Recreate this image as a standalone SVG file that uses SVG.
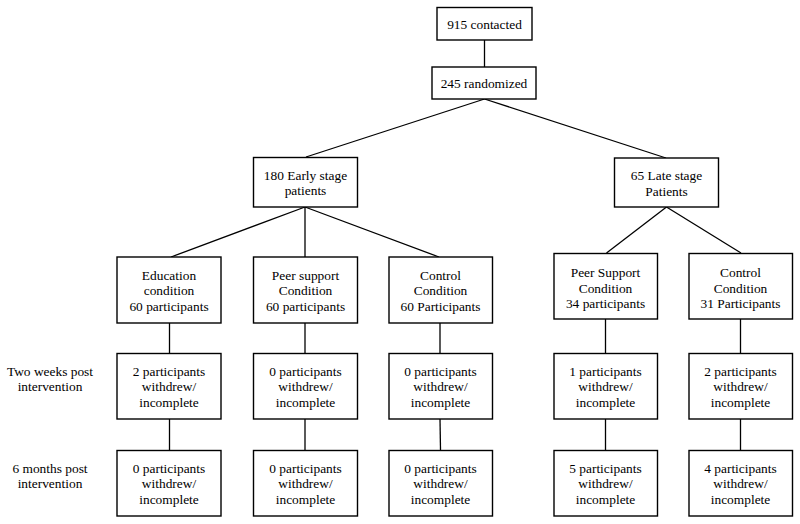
<svg xmlns="http://www.w3.org/2000/svg" width="800" height="524" viewBox="0 0 800 524">
<style>
  .box { fill: #ffffff; stroke: #000000; stroke-width: 1.4; }
  .t { font-family: 'Liberation Serif', 'DejaVu Serif', 'Times New Roman', serif; font-size: 13.4px; fill: #000000; text-anchor: middle; }
  .c { stroke: #000000; stroke-width: 1.3; fill: none; }
</style>
<rect width="800" height="524" fill="#ffffff"/>
<g id="connectors">
  <line class="c" x1="484.5" y1="40" x2="484.5" y2="67"/>
  <line class="c" x1="484.5" y1="99" x2="306" y2="157"/>
  <line class="c" x1="484.5" y1="99" x2="666" y2="158"/>
  <line class="c" x1="305" y1="207" x2="171" y2="257"/>
  <line class="c" x1="305" y1="207" x2="305" y2="257"/>
  <line class="c" x1="305" y1="207" x2="439" y2="257"/>
  <line class="c" x1="666.5" y1="207" x2="606.5" y2="253"/>
  <line class="c" x1="666.5" y1="207" x2="741" y2="253"/>
  <line class="c" x1="169.5" y1="323" x2="169.5" y2="353"/>
  <line class="c" x1="169.5" y1="419" x2="169.5" y2="450"/>
  <line class="c" x1="305" y1="323" x2="305" y2="353"/>
  <line class="c" x1="305" y1="419" x2="305" y2="450"/>
  <line class="c" x1="440" y1="323" x2="440" y2="353"/>
  <line class="c" x1="440" y1="419" x2="440.5" y2="450"/>
  <line class="c" x1="605.5" y1="319" x2="605.5" y2="353"/>
  <line class="c" x1="605.5" y1="419" x2="605.5" y2="450"/>
  <line class="c" x1="740.5" y1="319" x2="740.5" y2="353"/>
  <line class="c" x1="740.5" y1="419" x2="740.5" y2="450"/>
</g>
<g id="label-two-weeks">
  <text class="t" x="50" y="376">Two weeks post</text>
  <text class="t" x="50" y="391">intervention</text>
</g>
<g id="label-six-months">
  <text class="t" x="50" y="472.5">6 months post</text>
  <text class="t" x="50" y="488">intervention</text>
</g>
<g id="contacted">
  <rect class="box" x="437" y="7.5" width="95" height="32.5"/>
  <text class="t" x="484.5" y="28.5">915 contacted</text>
</g>
<g id="randomized">
  <rect class="box" x="432" y="67" width="104" height="32"/>
  <text class="t" x="484" y="88">245 randomized</text>
</g>
<g id="early">
  <rect class="box" x="253.5" y="157.5" width="104" height="49.5"/>
  <text class="t" x="305.5" y="179.5">180 Early stage</text>
  <text class="t" x="305.5" y="195">patients</text>
</g>
<g id="late">
  <rect class="box" x="614.5" y="158" width="104" height="49"/>
  <text class="t" x="666.5" y="180">65 Late stage</text>
  <text class="t" x="666.5" y="195.5">Patients</text>
</g>
<g id="education">
  <rect class="box" x="117" y="257" width="104" height="66"/>
  <text class="t" x="169" y="279.5">Education</text>
  <text class="t" x="169" y="295">condition</text>
  <text class="t" x="169" y="310.5">60 participants</text>
</g>
<g id="peer-early">
  <rect class="box" x="253.5" y="257" width="104" height="66"/>
  <text class="t" x="305.5" y="279.5">Peer support</text>
  <text class="t" x="305.5" y="295">Condition</text>
  <text class="t" x="305.5" y="310.5">60 participants</text>
</g>
<g id="control-early">
  <rect class="box" x="389" y="257" width="103.5" height="66"/>
  <text class="t" x="440.5" y="279.5">Control</text>
  <text class="t" x="440.5" y="295">Condition</text>
  <text class="t" x="440.5" y="310.5">60 Participants</text>
</g>
<g id="peer-late">
  <rect class="box" x="554" y="253.5" width="103.5" height="65.5"/>
  <text class="t" x="605.5" y="277">Peer Support</text>
  <text class="t" x="605.5" y="292.5">Condition</text>
  <text class="t" x="605.5" y="308">34 participants</text>
</g>
<g id="control-late">
  <rect class="box" x="689" y="253.5" width="103.5" height="65.5"/>
  <text class="t" x="740.5" y="277">Control</text>
  <text class="t" x="740.5" y="292.5">Condition</text>
  <text class="t" x="740.5" y="308">31 Participants</text>
</g>
<g id="education-2w">
  <rect class="box" x="117" y="353.5" width="104" height="65.5"/>
  <text class="t" x="169" y="376">2 participants</text>
  <text class="t" x="169" y="391">withdrew/</text>
  <text class="t" x="169" y="407">incomplete</text>
</g>
<g id="peer-early-2w">
  <rect class="box" x="253.5" y="353.5" width="104" height="65.5"/>
  <text class="t" x="305.5" y="376">0 participants</text>
  <text class="t" x="305.5" y="391">withdrew/</text>
  <text class="t" x="305.5" y="407">incomplete</text>
</g>
<g id="control-early-2w">
  <rect class="box" x="389" y="353.5" width="103.5" height="65.5"/>
  <text class="t" x="440.5" y="376">0 participants</text>
  <text class="t" x="440.5" y="391">withdrew/</text>
  <text class="t" x="440.5" y="407">incomplete</text>
</g>
<g id="peer-late-2w">
  <rect class="box" x="554" y="353.5" width="103.5" height="65.5"/>
  <text class="t" x="605.5" y="376">1 participants</text>
  <text class="t" x="605.5" y="391">withdrew/</text>
  <text class="t" x="605.5" y="407">incomplete</text>
</g>
<g id="control-late-2w">
  <rect class="box" x="689" y="353.5" width="103.5" height="65.5"/>
  <text class="t" x="740.5" y="376">2 participants</text>
  <text class="t" x="740.5" y="391">withdrew/</text>
  <text class="t" x="740.5" y="407">incomplete</text>
</g>
<g id="education-6m">
  <rect class="box" x="117" y="450.5" width="104" height="65.5"/>
  <text class="t" x="169" y="472.5">0 participants</text>
  <text class="t" x="169" y="488">withdrew/</text>
  <text class="t" x="169" y="503.5">incomplete</text>
</g>
<g id="peer-early-6m">
  <rect class="box" x="253.5" y="450.5" width="104" height="65.5"/>
  <text class="t" x="305.5" y="472.5">0 participants</text>
  <text class="t" x="305.5" y="488">withdrew/</text>
  <text class="t" x="305.5" y="503.5">incomplete</text>
</g>
<g id="control-early-6m">
  <rect class="box" x="389" y="450.5" width="103.5" height="65.5"/>
  <text class="t" x="440.5" y="472.5">0 participants</text>
  <text class="t" x="440.5" y="488">withdrew/</text>
  <text class="t" x="440.5" y="503.5">incomplete</text>
</g>
<g id="peer-late-6m">
  <rect class="box" x="554" y="450.5" width="103.5" height="65.5"/>
  <text class="t" x="605.5" y="472.5">5 participants</text>
  <text class="t" x="605.5" y="488">withdrew/</text>
  <text class="t" x="605.5" y="503.5">incomplete</text>
</g>
<g id="control-late-6m">
  <rect class="box" x="689" y="450.5" width="103.5" height="65.5"/>
  <text class="t" x="740.5" y="472.5">4 participants</text>
  <text class="t" x="740.5" y="488">withdrew/</text>
  <text class="t" x="740.5" y="503.5">incomplete</text>
</g>
</svg>
